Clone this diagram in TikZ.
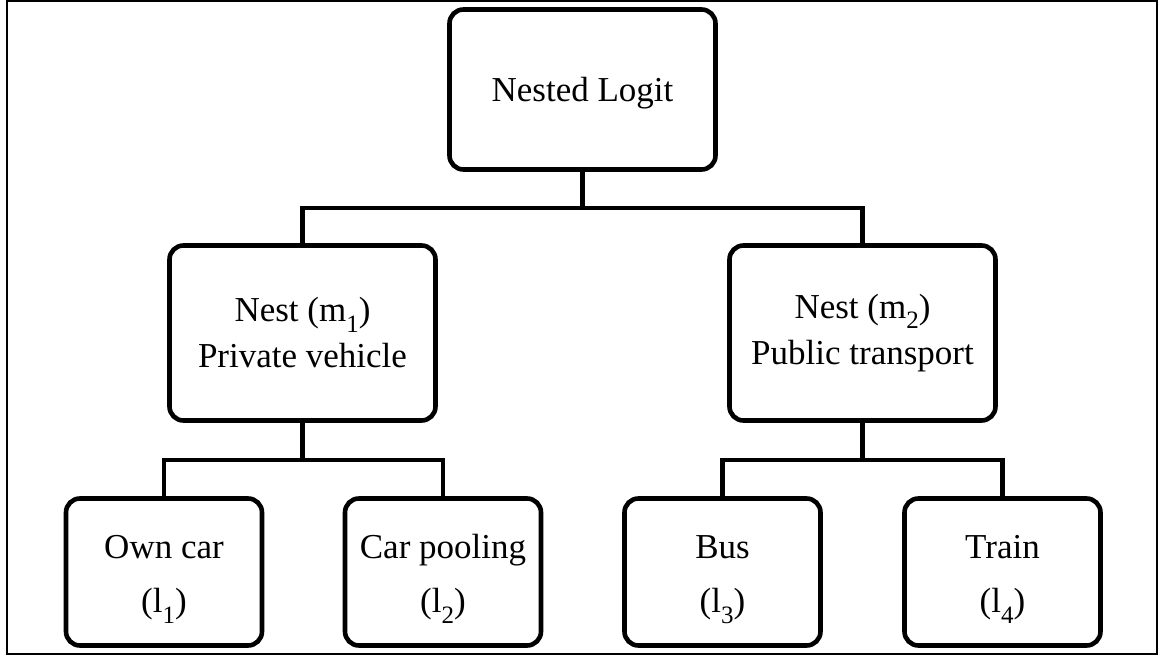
\documentclass[tikz,border=0pt]{standalone}
\usepackage{fontspec}
\setmainfont{Liberation Serif}
\usetikzlibrary{positioning}

\newcommand{\lowidx}[1]{\raisebox{-0.3em}{\fontsize{12.5}{12.5}\selectfont #1}}

\tikzset{
  choice/.style={draw, line width=2.3pt, rounded corners=7pt, align=center,
    font=\fontsize{17.5}{23}\selectfont, inner sep=0pt},
  rootbox/.style={choice, minimum width=133pt, minimum height=80pt},
  nestbox/.style={choice, minimum width=133pt, minimum height=87.5pt},
  leafbox/.style={choice, minimum width=98pt, minimum height=73.5pt,
    font=\fontsize{17.5}{27}\selectfont},
  branch/.style={line width=2.3pt}
}

\begin{document}
\begin{tikzpicture}[x=0.5pt, y=-0.5pt]
    \useasboundingbox (0,0) rectangle (1162,657);
    \draw[line width=1pt] (7,1) rectangle (1157,654);
    % root
    \node[rootbox] (root) at (582.5,89.5) {\rule{0pt}{16pt}Nested Logit};
    % nests
    \node[nestbox] (m1) at (302.5,333) {Nest (m\lowidx{1})\\Private vehicle};
    \node[nestbox] (m2) at (862.5,333) {Nest (m\lowidx{2})\\Public transport};
    % alternatives
    \node[leafbox] (l1) at (164,572) {\rule{0pt}{19pt}Own car\\(l\lowidx{1})};
    \node[leafbox] (l2) at (443,572) {\rule{0pt}{19pt}Car pooling\\(l\lowidx{2})};
    \node[leafbox] (l3) at (722.5,572) {\rule{0pt}{19pt}Bus\\(l\lowidx{3})};
    \node[leafbox] (l4) at (1002.5,572) {\rule{0pt}{19pt}Train\\(l\lowidx{4})};
    % tree branches
    \coordinate (s0) at (582.5,208);
    \coordinate (s1) at (302.5,460);
    \coordinate (s2) at (862.5,460);
    \draw[branch] (root.south) -- (s0);
    \draw[branch] (m1.north) |- (s0) -| (m2.north);
    \draw[branch] (m1.south) -- (s1);
    \draw[branch] (l1.north) |- (s1) -| (l2.north);
    \draw[branch] (m2.south) -- (s2);
    \draw[branch] (l3.north) |- (s2) -| (l4.north);
\end{tikzpicture}
\end{document}
